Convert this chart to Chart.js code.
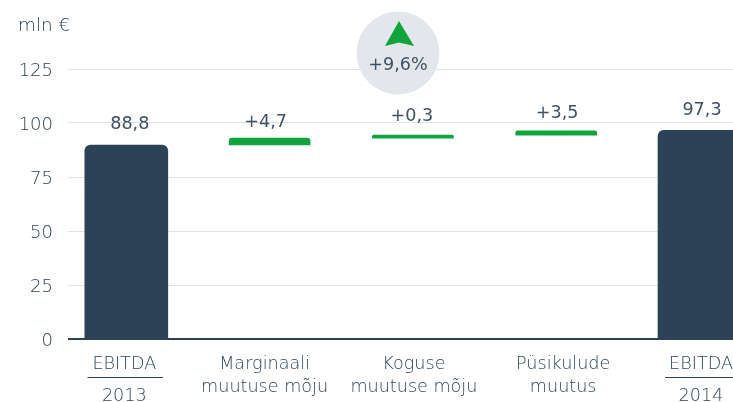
<!DOCTYPE html>
<html><head><meta charset="utf-8">
<script src="https://cdn.jsdelivr.net/npm/chart.js@4"></script>
<style>html,body{margin:0;padding:0;background:#fff;overflow:hidden}#c{display:block}</style>
</head><body><canvas id="c" width="733" height="402"></canvas>
<script>
const categories = [['EBITDA','2013'],['Marginaali','muutuse mõju'],['Koguse','muutuse mõju'],['Püsikulude','muutus'],['EBITDA','2014']];
const valueLabels = ['88,8','+4,7','+0,3','+3,5','97,3'];
const totalBars = [[0,89.8],null,null,null,[0,96.6]];
const changeBars = [null,[89.8,93],[93,94.4],[94.4,96.4],null];
const yTicks = [0,25,50,75,100,125];
const unitLabel = 'mln €';
const changeLabel = '+9,6%';

const DARK='#2c4257', TXT='#2f4457', TXT2='#3f5265', GREEN='#10a53c', GRID='#dfe2e6', CIRCLE='#e3e6ea';
const LIGHT='200 18.4px "DejaVu Sans"', REG='400 17.6px "DejaVu Sans"';
const labelNudge=[[3.5,-21],[-4,-16],[-1,-19],[1,-17],[2.5,-19.5]];
const tickNudge=[-2,-5,1,7,1.5];
const PX=143.3;

const overlay={id:'overlay',afterDatasetsDraw(ch){
  const c=ch.ctx,xs=ch.scales.x,ys=ch.scales.y;
  const tops=[totalBars[0][1],changeBars[1][1],changeBars[2][1],changeBars[3][1],totalBars[4][1]];
  c.save();
  c.textAlign='center';c.textBaseline='middle';c.fillStyle=TXT2;c.font=REG;
  valueLabels.forEach((t,i)=>c.fillText(t,xs.getPixelForValue(i)+labelNudge[i][0],ys.getPixelForValue(tops[i])+labelNudge[i][1]));
  c.fillStyle=CIRCLE;c.beginPath();c.arc(398,53,41.5,0,Math.PI*2);c.fill();
  c.fillStyle=GREEN;c.beginPath();c.moveTo(399,21);c.lineTo(414,46);c.lineTo(399,42.5);c.lineTo(385,46);c.closePath();c.fill();
  c.fillStyle=TXT2;c.fillText(changeLabel,398,65);
  c.textAlign='left';c.font=LIGHT;c.fillStyle=TXT;c.fillText(unitLabel,18,26);
  c.strokeStyle=DARK;c.lineWidth=1;
  c.beginPath();c.moveTo(87.5,377.5);c.lineTo(163,377.5);c.moveTo(665,377.5);c.lineTo(733,377.5);c.stroke();
  c.restore();
}};

new Chart(document.getElementById('c'),{
  type:'bar',
  data:{datasets:[
    {data:totalBars.map((y,x)=>({x,y})),backgroundColor:DARK,barThickness:83,grouped:false,
     borderRadius:{topLeft:6,topRight:6,bottomLeft:0,bottomRight:0},borderSkipped:false},
    {data:changeBars.map((y,x)=>({x,y})),backgroundColor:GREEN,barThickness:81,grouped:false,
     borderRadius:{topLeft:6,topRight:6,bottomLeft:0,bottomRight:0},borderSkipped:false}
  ]},
  options:{
    responsive:false,animation:false,devicePixelRatio:1,
    layout:{padding:{top:69,left:0,right:0,bottom:0}},
    plugins:{legend:{display:false},tooltip:{enabled:false},title:{display:false}},
    scales:{
      x:{type:'linear',offset:false,min:(68-126.3)/PX,max:(733-126.3)/PX,
        grid:{display:false,offset:false},border:{display:false},
        afterBuildTicks(s){s.ticks=categories.map((_,i)=>({value:i+tickNudge[i]/PX}));},
        afterFit(s){s.height=63;s.paddingLeft=0;s.paddingRight=0;},
        ticks:{autoSkip:false,maxRotation:0,minRotation:0,includeBounds:false,padding:12,color:TXT,
          callback:(v,i)=>{const [a,b]=categories[i];return i%4===0?[a,'','',b]:[a,'',b];},
          font:ctx=>({family:'"DejaVu Sans"',weight:'200',size:17.6,lineHeight:(ctx.index%4===0)?'10.67px':'11.5px'})}},
      y:{min:0,max:125,position:'left',
        afterBuildTicks(s){s.ticks=yTicks.map(value=>({value}));},
        afterFit(s){s.width=68;},
        border:{display:false},
        grid:{drawTicks:false,color:c=>c.tick.value===0?DARK:GRID,lineWidth:c=>c.tick.value===0?2:1},
        ticks:{padding:15,color:TXT,callback:v=>['',String(v)],
          font:{family:'"DejaVu Sans"',weight:'200',size:18,lineHeight:'5px'}}}
    }
  },
  plugins:[overlay]
});
</script></body></html>
